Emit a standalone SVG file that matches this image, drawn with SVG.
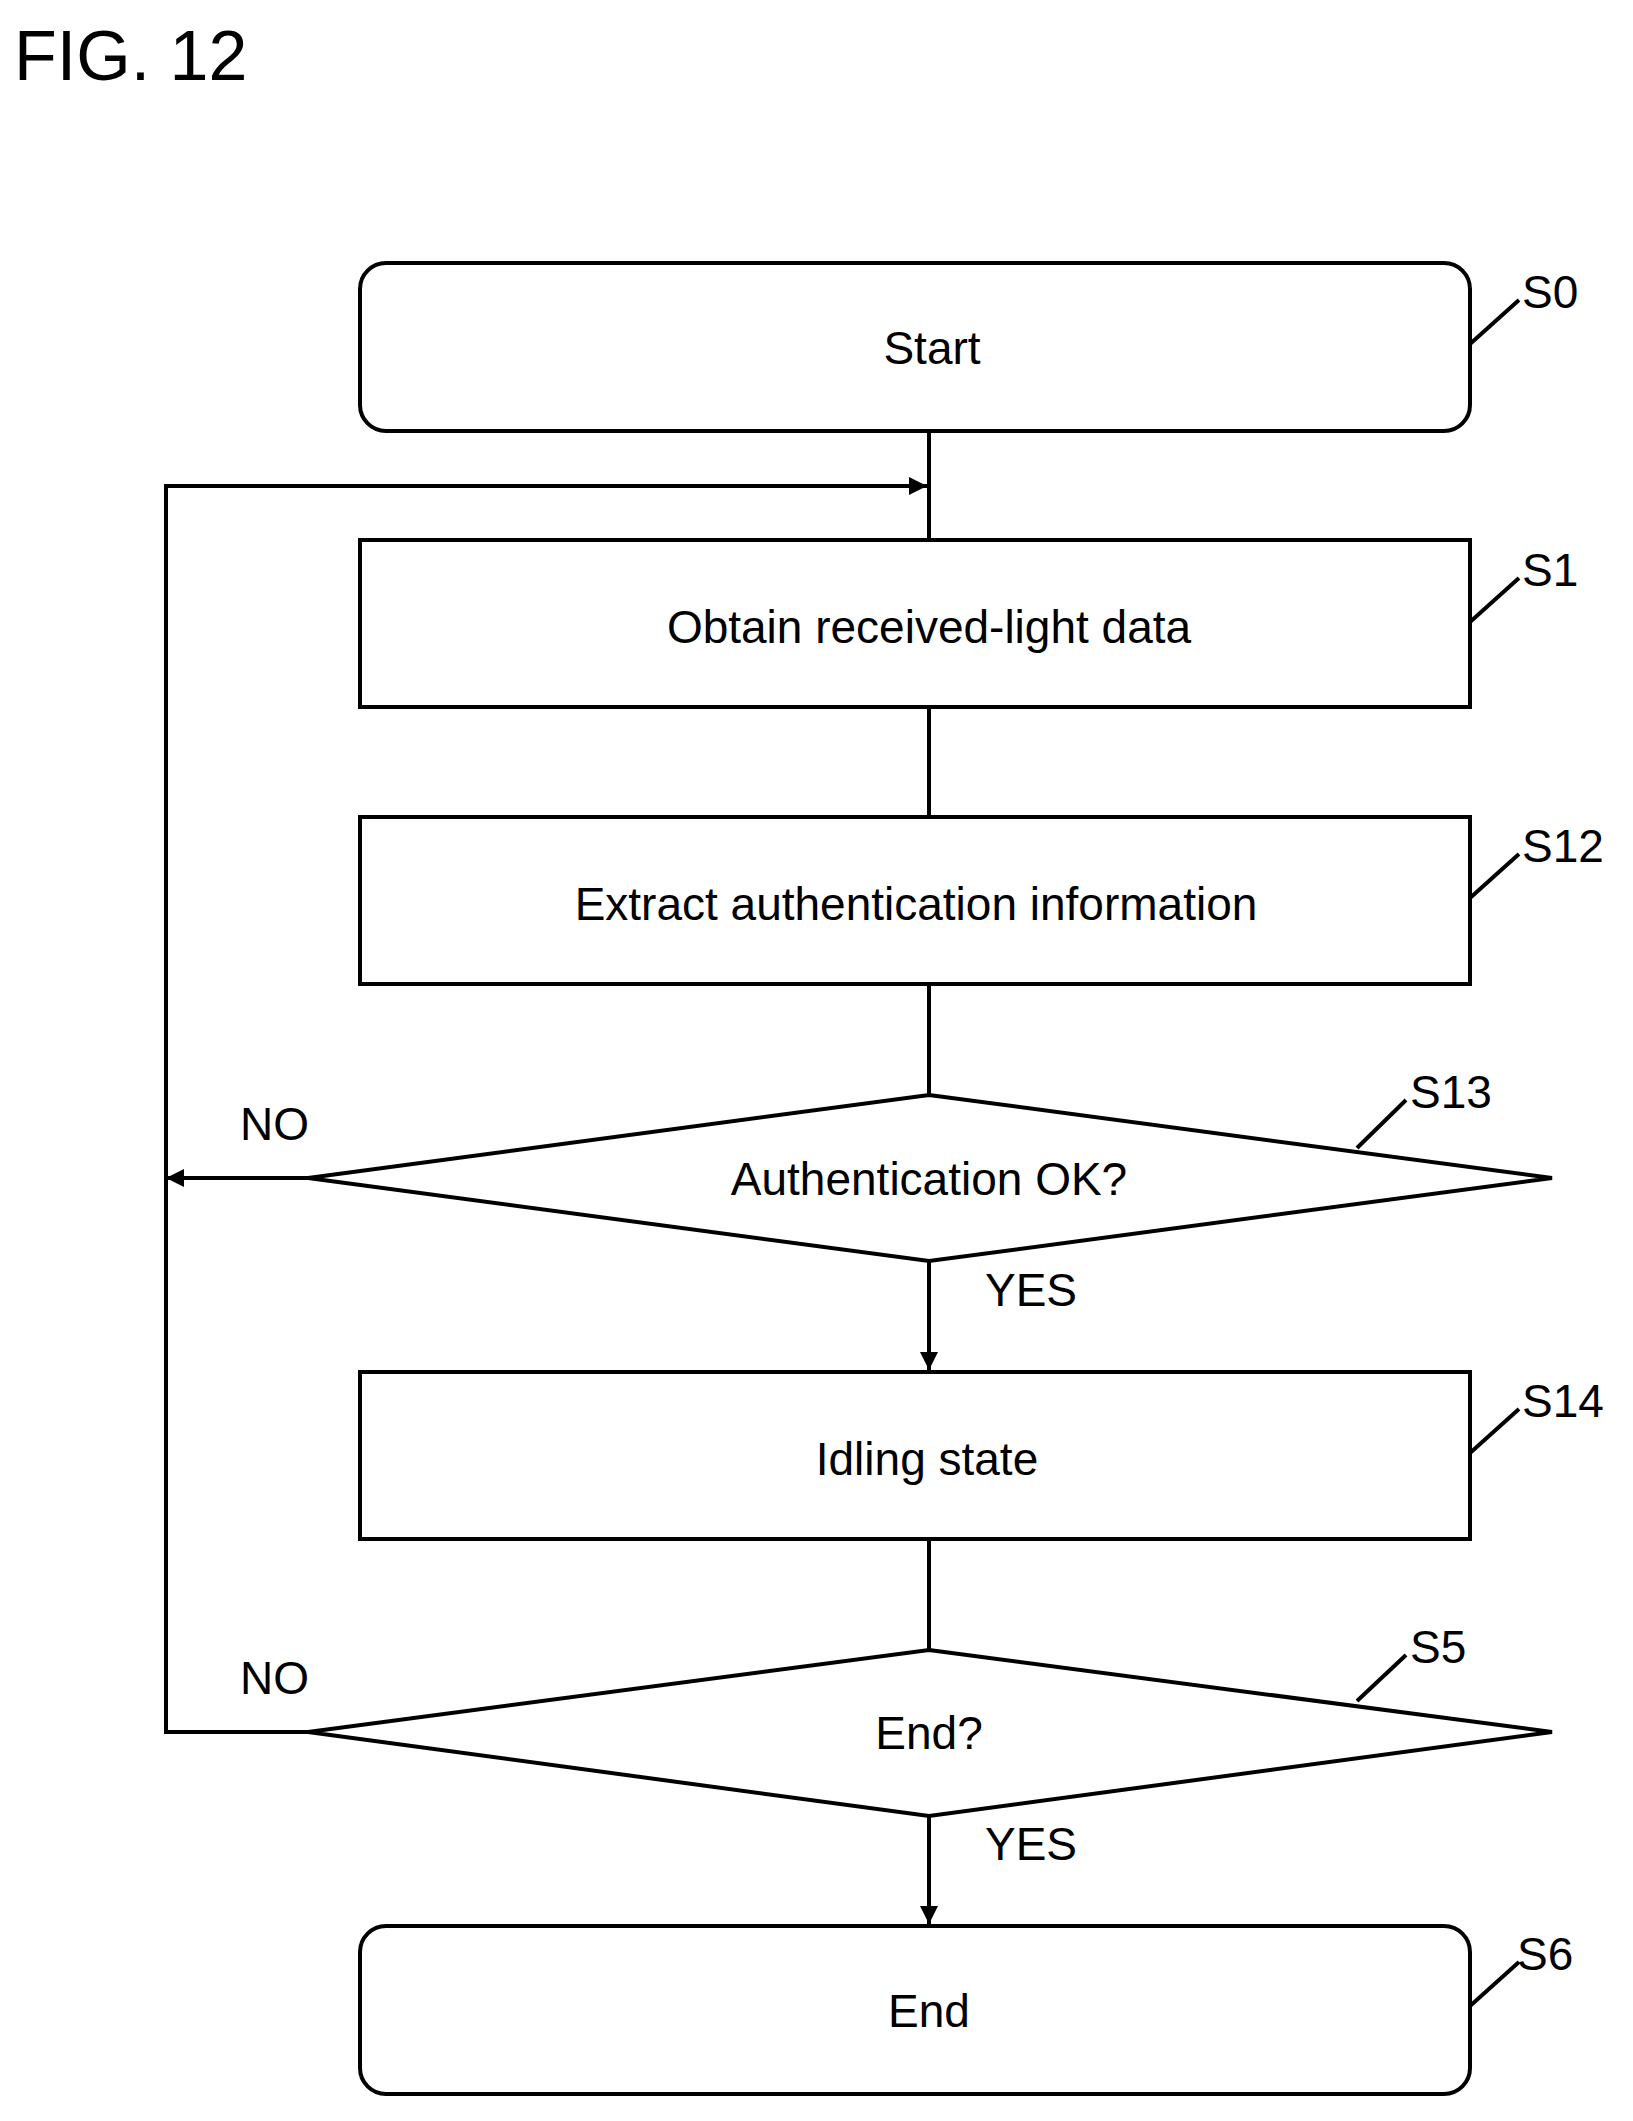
<svg xmlns="http://www.w3.org/2000/svg" width="1633" height="2121" viewBox="0 0 1633 2121">
<style>
.b{fill:#fff;stroke:#000;stroke-width:4}
.l{fill:none;stroke:#000;stroke-width:4}
.t{font-family:"Liberation Sans",Arial,sans-serif;font-size:46px;fill:#000}
.m{text-anchor:middle}
</style>
<defs><marker id="a" markerWidth="8" markerHeight="8" refX="7" refY="4" orient="auto" markerUnits="userSpaceOnUse" viewBox="0 0 8 8"><path d="M0,0L8,4L0,8z"/></marker>
<marker id="ah" viewBox="0 0 10 10" refX="10" refY="5" markerWidth="18" markerHeight="18" orient="auto" markerUnits="userSpaceOnUse"><path d="M0,0L10,5L0,10z"/></marker></defs>
<rect width="1633" height="2121" fill="#fff"/>
<text x="14" y="80" style="font-family:'Liberation Sans',Arial,sans-serif;font-size:70px">FIG. 12</text>
<g id="connectors">
<line class="l" x1="929" y1="431" x2="929" y2="540"/>
<polyline class="l" points="308,1178 166,1178 166,486 927,486" marker-end="url(#ah)"/>
<polyline class="l" points="308,1732 166,1732 166,1178"/>
<line class="l" x1="168" y1="1178" x2="170" y2="1178"/>
<line class="l" x1="929" y1="707" x2="929" y2="817"/>
<line class="l" x1="929" y1="984" x2="929" y2="1095"/>
<line class="l" x1="929" y1="1261" x2="929" y2="1370" marker-end="url(#ah)"/>
<line class="l" x1="929" y1="1539" x2="929" y2="1650"/>
<line class="l" x1="929" y1="1816" x2="929" y2="1924" marker-end="url(#ah)"/>
<path class="l" d="M190,1178L166,1178" marker-end="url(#ah)"/>
</g>
<g id="S0"><rect class="b" x="360" y="263" width="1110" height="168" rx="26"/><text class="t m" x="932" y="364">Start</text><line class="l" x1="1470" y1="344" x2="1519" y2="300" stroke-width="2"/><text class="t" x="1522" y="308">S0</text></g>
<g id="S1"><rect class="b" x="360" y="540" width="1110" height="167"/><text class="t m" x="929" y="643">Obtain received-light data</text><line class="l" x1="1470" y1="622" x2="1519" y2="578" stroke-width="2"/><text class="t" x="1522" y="586">S1</text></g>
<g id="S12"><rect class="b" x="360" y="817" width="1110" height="167"/><text class="t m" x="916" y="920">Extract authentication information</text><line class="l" x1="1470" y1="898" x2="1519" y2="854" stroke-width="2"/><text class="t" x="1522" y="862">S12</text></g>
<g id="S13"><polygon class="b" points="929,1095 1552,1178 929,1261 308,1178"/><text class="t m" x="929" y="1195">Authentication OK?</text><line class="l" x1="1357" y1="1148" x2="1406" y2="1100" stroke-width="2"/><text class="t" x="1410" y="1108">S13</text><text class="t" x="240" y="1140">NO</text><text class="t" x="985" y="1306">YES</text></g>
<g id="S14"><rect class="b" x="360" y="1372" width="1110" height="167"/><text class="t m" x="927" y="1475">Idling state</text><line class="l" x1="1470" y1="1453" x2="1519" y2="1409" stroke-width="2"/><text class="t" x="1522" y="1417">S14</text></g>
<g id="S5"><polygon class="b" points="929,1650 1552,1732 929,1816 308,1732"/><text class="t m" x="929" y="1749">End?</text><line class="l" x1="1357" y1="1701" x2="1406" y2="1655" stroke-width="2"/><text class="t" x="1410" y="1663">S5</text><text class="t" x="240" y="1694">NO</text><text class="t" x="985" y="1860">YES</text></g>
<g id="S6"><rect class="b" x="360" y="1926" width="1110" height="168" rx="26"/><text class="t m" x="929" y="2027">End</text><line class="l" x1="1470" y1="2006" x2="1519" y2="1962" stroke-width="2"/><text class="t" x="1517" y="1970">S6</text></g>
</svg>
